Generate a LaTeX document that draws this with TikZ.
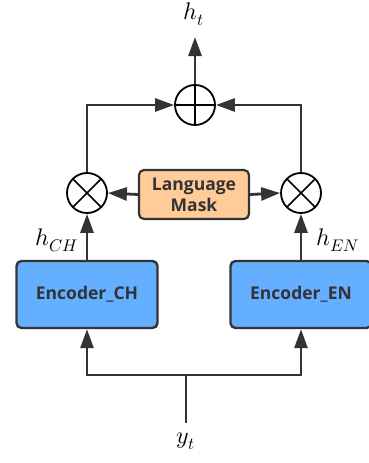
\documentclass[tikz,border=0pt]{standalone}
\usepackage{fontspec}
\usepackage{unicode-math}
\setmathfont{Latin Modern Math}
\setsansfont{Open Sans}
\usetikzlibrary{arrows.meta,calc}
\definecolor{linec}{HTML}{333333}
\definecolor{encblue}{HTML}{64AFFF}
\definecolor{maskor}{HTML}{FFCC99}
\begin{document}
\begin{tikzpicture}[x=1pt,y=-1pt,
  arr/.style={draw=linec,line width=2.8pt,-{Triangle[length=19pt,width=13pt]}},
  ln/.style={draw=linec,line width=2.8pt},
  encbox/.style={draw=linec,line width=2.4pt,fill=encblue,rounded corners=5pt,minimum width=141pt,minimum height=67pt,inner sep=0pt,font=\sffamily\bfseries\fontsize{17.5}{20}\selectfont,text=linec},
  maskbox/.style={draw=linec,line width=2.2pt,fill=maskor,rounded corners=5pt,minimum width=110pt,minimum height=49pt,inner sep=0pt,align=center,font=\sffamily\bfseries\fontsize{17.5}{21}\selectfont,text=linec},
  opcirc/.style={circle,draw=black,line width=1.8pt,fill=white,minimum size=40pt,inner sep=0pt},
  mathlbl/.style={font=\fontsize{24}{27}\selectfont,text=black,inner sep=0pt}
]
\useasboundingbox (0,0) rectangle (368,463);
\node[opcirc,path picture={\draw[black,line width=1.6pt] (path picture bounding box.north) -- (path picture bounding box.south) (path picture bounding box.west) -- (path picture bounding box.east);}] (plus) at (195,105) {};
\node[opcirc,path picture={\draw[black,line width=1.6pt] (path picture bounding box.center) ++(-45:30pt) -- ++(135:60pt) (path picture bounding box.center) ++(45:30pt) -- ++(-135:60pt);}] (tl) at (87,193) {};
\node[opcirc,path picture={\draw[black,line width=1.6pt] (path picture bounding box.center) ++(-45:30pt) -- ++(135:60pt) (path picture bounding box.center) ++(45:30pt) -- ++(-135:60pt);}] (tr) at (301,193) {};
\node[maskbox] (mask) at (194,194.5) {Language\\Mask};
\node[encbox] (ench) at (87,294.5) {Encoder\_CH};
\node[encbox] (enen) at (301,294.5) {Encoder\_EN};
\node[mathlbl] (ht) at (194,14) {$h_t$};
\coordinate (httip) at (195,37);
\node[mathlbl] (hch) at (57,240) {$h_{CH}$};
\node[mathlbl] (hen) at (338,240) {$h_{EN}$};
\node[mathlbl] (yt) at (186,441) {$y_t$};
\coordinate (ybot) at (186,423);
\coordinate (ysplit) at (186,375);
\coordinate (cl) at (87,375);
\coordinate (cr) at (301,375);
\coordinate (tlc) at (87,105);
\coordinate (trc) at (301,105);
% connections
\draw[arr] (plus.north) -- (httip);
\draw[arr] (tl.north) -- (tlc) -- (plus.west);
\draw[arr] (tr.north) -- (trc) -- (plus.east);
\draw[arr] (mask.west) -- (tl.east);
\draw[arr] (mask.east) -- (tr.west);
\draw[arr] (ench.north) -- (tl.south);
\draw[arr] (enen.north) -- (tr.south);
\draw[ln] (ybot) -- (ysplit);
\draw[ln,line cap=rect] (cl) -- (cr);
\draw[arr] (cl) -- (ench.south);
\draw[arr] (cr) -- (enen.south);
\end{tikzpicture}
\end{document}
